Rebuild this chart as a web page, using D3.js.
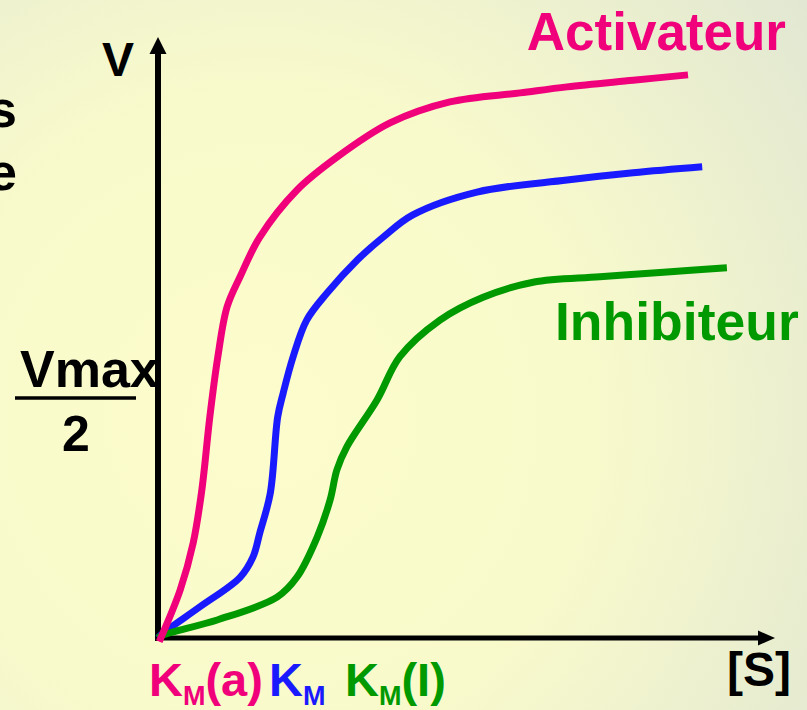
<!DOCTYPE html>
<html>
<head>
<meta charset="utf-8">
<script src="https://cdn.jsdelivr.net/npm/d3@7"></script>
<style>
  html, body { margin: 0; padding: 0; }
  body { width: 807px; height: 710px; overflow: hidden; }
  text { font-family: "Liberation Sans", Arial, sans-serif; font-weight: bold; }
</style>
</head>
<body>
<div id="chart"></div>
<script>
// [S] and V in arbitrary units (axes run 0..100)
var activX = [0.2, 3.6, 5.7, 7.1, 8.4, 9.7, 11.2, 13.3, 16.5, 22.5, 29.0, 37.6, 47.3, 58.7, 66.3, 77.0, 85.9];
var activY = [-0.6, 8.0, 15.8, 24.6, 36.8, 46.8, 55.1, 60.1, 66.7, 74.5, 80.0, 85.7, 89.2, 90.7, 91.7, 92.8, 93.7];

var normX = [0, 0.8, 6.8, 13.3, 15.4, 16.5, 18.2, 19.4, 20.3, 21.9, 24.1, 27.4, 32.3, 36.5, 41.3, 51.7, 66.3, 77.0, 88.2];
var normY = [0, 0.8, 5.2, 10.1, 13.5, 17.5, 24.1, 36.8, 40.8, 46.8, 52.9, 57.4, 62.9, 66.7, 70.4, 74.2, 76.2, 77.4, 78.4];

var inhibX = [0, 0.8, 9.6, 19.3, 22.5, 25.8, 27.9, 29.0, 30.6, 35.5, 39.2, 45.7, 52.7, 60.8, 71.6, 82.5, 92.2];
var inhibY = [0, 0.5, 3.0, 6.8, 10.1, 16.8, 23.0, 28.0, 31.8, 39.6, 46.8, 52.9, 56.7, 59.2, 60.1, 60.9, 61.6];

var seriesNames = ['Activateur', 'KM', 'Inhibiteur'];
var seriesColors = ['#f0007a', '#1a1aff', '#009900'];

var width = 807, height = 710;

var svg = d3.select('#chart').append('svg')
    .attr('width', width)
    .attr('height', height);

// background
var defs = svg.append('defs');
var grad = defs.append('radialGradient')
    .attr('id', 'bg')
    .attr('gradientUnits', 'userSpaceOnUse')
    .attr('cx', 260).attr('cy', 420).attr('r', 720);
grad.append('stop').attr('offset', '0').attr('stop-color', '#fcfccc');
grad.append('stop').attr('offset', '0.45').attr('stop-color', '#f9facb');
grad.append('stop').attr('offset', '1').attr('stop-color', '#dfe6d3');
svg.append('rect')
    .attr('width', width).attr('height', height)
    .attr('fill', 'url(#bg)');

var xScale = d3.scaleLinear().domain([0, 100]).range([158, 775]),
    yScale = d3.scaleLinear().domain([0, 100]).range([638, 37]);

var chart = svg.append('g');

// axes (no ticks, only the domain line)
var xAxis = d3.axisBottom(xScale).ticks(0).tickSizeOuter(0),
    yAxis = d3.axisLeft(yScale).ticks(0).tickSizeOuter(0);

var xx = chart.append('g')
    .attr('transform', 'translate(0,' + yScale(0) + ')')
    .call(xAxis);
var yy = chart.append('g')
    .attr('transform', 'translate(' + xScale(0) + ',0)')
    .call(yAxis);

xx.select('.domain')
    .attr('d', 'M' + (xScale(0) - 3) + ',0H' + (xScale(100) - 14))
    .attr('stroke', '#000').attr('stroke-width', 5);
yy.select('.domain')
    .attr('d', 'M0,' + (yScale(0) + 3) + 'V' + (yScale(100) + 14))
    .attr('stroke', '#000').attr('stroke-width', 6);

// arrow heads
chart.append('path')
    .attr('d', 'M' + xScale(100) + ',' + yScale(0) + 'l-17,-7.5v15z')
    .attr('fill', '#000');
chart.append('path')
    .attr('d', 'M' + xScale(0) + ',' + yScale(100) + 'l-8.5,17h17z')
    .attr('fill', '#000');

// curves
var line = d3.line()
    .x(function(d) { return xScale(d[0]); })
    .y(function(d) { return yScale(d[1]); })
    .curve(d3.curveCatmullRom.alpha(0.5));

var series = [
    d3.zip(normX, normY),
    d3.zip(inhibX, inhibY),
    d3.zip(activX, activY)
];
var order = [1, 2, 0];

chart.selectAll('.curve')
    .data(series)
    .enter()
    .append('path')
    .attr('class', 'curve')
    .attr('d', line)
    .attr('fill', 'none')
    .attr('stroke', function(d, i) { return seriesColors[order[i]]; })
    .attr('stroke-width', 7)
    .attr('stroke-linejoin', 'round');

// labels
var labels = svg.append('g');

labels.append('text')
    .attr('x', 786).attr('y', 50)
    .attr('text-anchor', 'end')
    .attr('font-size', 53)
    .attr('fill', seriesColors[0])
    .text(seriesNames[0]);

labels.append('text')
    .attr('x', 555).attr('y', 340)
    .attr('font-size', 53.5)
    .attr('fill', seriesColors[2])
    .text(seriesNames[2]);

labels.append('text')
    .attr('x', 118).attr('y', 76)
    .attr('text-anchor', 'middle')
    .attr('font-size', 48)
    .attr('fill', '#000')
    .text('V');

labels.append('text')
    .attr('x', 20).attr('y', 387)
    .attr('font-size', 52)
    .attr('fill', '#000')
    .text('Vmax');
labels.append('line')
    .attr('x1', 15).attr('x2', 136)
    .attr('y1', 398).attr('y2', 398)
    .attr('stroke', '#000').attr('stroke-width', 3.5);
labels.append('text')
    .attr('x', 76).attr('y', 451)
    .attr('text-anchor', 'middle')
    .attr('font-size', 50)
    .attr('fill', '#000')
    .text('2');

labels.append('text')
    .attr('x', 727).attr('y', 686)
    .attr('font-size', 48)
    .attr('fill', '#000')
    .text('[S]');

// clipped text on the left edge
labels.append('text')
    .attr('x', 17).attr('y', 127)
    .attr('text-anchor', 'end')
    .attr('font-size', 52)
    .attr('fill', '#000')
    .text('s');
labels.append('text')
    .attr('x', 17).attr('y', 190)
    .attr('text-anchor', 'end')
    .attr('font-size', 52)
    .attr('fill', '#000')
    .text('e');

// KM labels under the x axis
var kmLabels = [
    {x: 149, suffix: '(a)', color: seriesColors[0]},
    {x: 269, suffix: '', color: seriesColors[1]},
    {x: 345, suffix: '(I)', color: seriesColors[2]}
];

kmLabels.forEach(function(k) {
    var t = labels.append('text')
        .attr('x', k.x).attr('y', 696)
        .attr('font-size', 47)
        .attr('fill', k.color);
    t.append('tspan').text('K');
    t.append('tspan').attr('font-size', 27).attr('dy', 9).text('M');
    if (k.suffix) {
        t.append('tspan').attr('dy', -9).text(k.suffix);
    }
});
</script>
</body>
</html>
